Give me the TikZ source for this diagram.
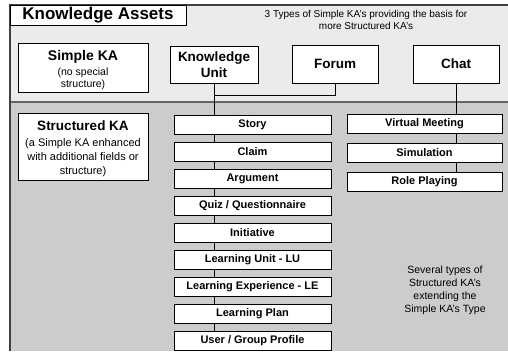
\documentclass[tikz,border=0pt]{standalone}
\usepackage{fontspec}
\setmainfont{Liberation Sans}
\pgfdeclarelayer{bg}
\pgfdeclarelayer{wires}
\pgfsetlayers{bg,wires,main}
\definecolor{topfill}{HTML}{EBEBEB}
\definecolor{lowfill}{HTML}{CCCCCC}
\definecolor{framecol}{HTML}{404040}
\definecolor{divcol}{HTML}{666666}
\begin{document}
\begin{tikzpicture}[x=1pt,y=-1pt,
  box/.style={draw=black, line width=0.8pt, fill=white, inner sep=1pt, align=center},
  head/.style={font=\bfseries\fontsize{13.5}{16}\selectfont},
  item/.style={box, minimum height=19pt, inner sep=0pt, font=\bfseries\fontsize{11}{12}\selectfont},
  leftitem/.style={item, minimum width=157pt},
  rightitem/.style={item, minimum width=155pt},
  wire/.style={draw=black, line width=0.8pt},
  note/.style={align=center, font=\fontsize{10}{12.5}\selectfont}]
\useasboundingbox (0,0) rectangle (508,351);

% panels
\begin{pgfonlayer}{bg}
  \fill[white] (0,0) rectangle (508,351);
  \fill[topfill] (10,5) rectangle (508,102);
  \fill[lowfill] (10,102) rectangle (508,351);
  \draw[divcol, line width=2pt] (10,102) -- (508,102);
  \draw[framecol, line width=1.4pt] (508,5) -- (10,5) -- (10,351);
\end{pgfonlayer}

% title and caption of the upper panel
\node[box, minimum width=176pt, minimum height=20pt, inner sep=0pt,
      font=\bfseries\fontsize{17}{19}\selectfont] (title) at (98,15) {Knowledge Assets};
\node[note] (caption) at (366,20) {3 Types of Simple KA's providing the basis for\\more Structured KA's};

% simple knowledge assets (a strut on the first line sets the text a little lower)
\node[box, minimum width=130pt, minimum height=49pt, font=\fontsize{10.5}{12.5}\selectfont] (simple) at (83,68)
  {\rule{0pt}{14pt}\bfseries\fontsize{14}{16}\selectfont Simple KA\\[2.5pt]\normalfont\fontsize{10.5}{12.5}\selectfont (no special\\structure)};
\node[box, head, minimum width=88pt, minimum height=37pt] (ku) at (214,64.5) {Knowledge\\Unit};
\node[box, head, minimum width=86pt, minimum height=38pt] (forum) at (335,64) {Forum};
\node[box, head, minimum width=86pt, minimum height=38pt] (chat) at (456,64) {Chat};

% structured knowledge assets
\node[box, minimum width=130pt, minimum height=67pt, font=\fontsize{11}{14}\selectfont] (structured) at (83,146.5)
  {\rule{0pt}{14pt}\bfseries\fontsize{13.5}{16}\selectfont Structured KA\\[1.5pt]\normalfont\fontsize{11}{14}\selectfont (a Simple KA enhanced\\with additional fields or\\structure)};

\node[leftitem] (story)    at (252.5,124.5) {Story};
\node[leftitem] (claim)    at (252.5,151.5) {Claim};
\node[leftitem] (argument) at (252.5,178.5) {Argument};
\node[leftitem] (quiz)     at (252.5,205.5) {Quiz / Questionnaire};
\node[leftitem] (initiative) at (252.5,232.5) {Initiative};
\node[leftitem] (lu)       at (252.5,259.5) {Learning Unit - LU};
\node[leftitem] (le)       at (252.5,286.5) {Learning Experience - LE};
\node[leftitem] (lp)       at (252.5,313.5) {Learning Plan};
\node[leftitem] (profile)  at (252.5,340.5) {User / Group Profile};

\node[rightitem] (meeting)    at (424.5,123.5) {Virtual Meeting};
\node[rightitem] (simulation) at (424.5,152.5) {Simulation};
\node[rightitem] (roleplay)   at (424.5,181.5) {Role Playing};

\node[note, font=\fontsize{10.5}{13}\selectfont] (remark) at (445,290)
  {Several types of\\Structured KA's\\extending the\\Simple KA's Type};

% connectors
\coordinate (join) at (214,95);
\begin{pgfonlayer}{wires}
  \draw[wire] (ku.south) -- (ku.south |- profile.north);
  \draw[wire] (forum.south) |- (join);
  \draw[wire] (chat.south) -- (chat.south |- roleplay.north);
\end{pgfonlayer}
\end{tikzpicture}
\end{document}
